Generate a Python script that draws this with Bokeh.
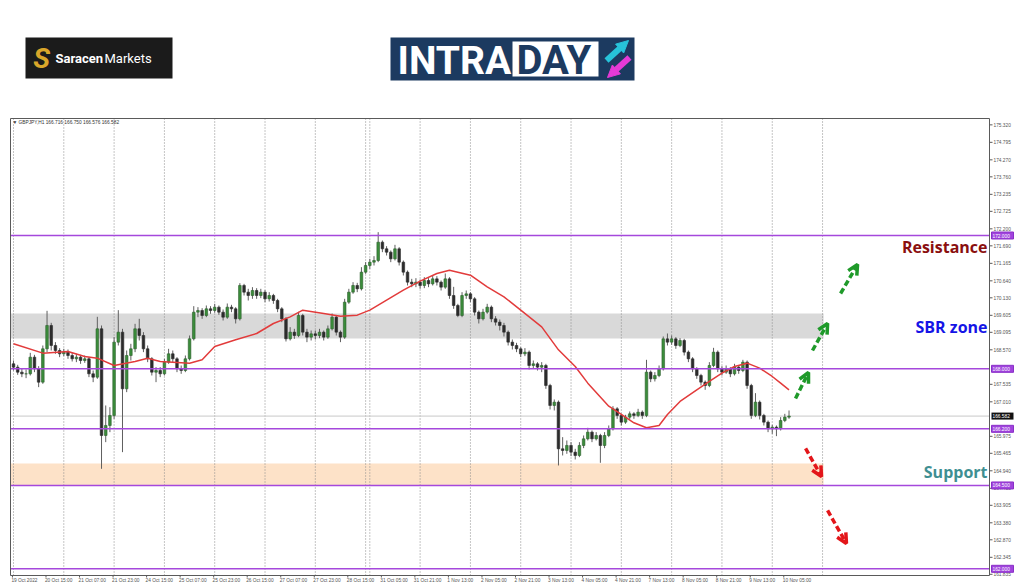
from bokeh.plotting import figure
from bokeh.models import Range1d, ColumnDataSource, Arrow, OpenHead, NormalHead
from bokeh.layouts import column
from bokeh.embed import file_html
from bokeh.resources import INLINE
from bokeh.core.properties import value

# ---------------- data (GBPJPY, 2-hour candles) ----------------
open0 = 168.15
close = [168.05,167.90,167.85,167.85,168.35,168.00,167.60,168.60,169.30,168.70,
         168.55,168.45,168.50,168.40,168.30,168.35,168.25,168.30,167.85,167.75,
         169.20,166.00,166.30,166.60,168.80,169.10,167.40,168.40,168.60,169.20,
         169.00,168.60,168.30,167.90,167.95,167.85,168.20,168.45,168.30,168.00,
         167.95,168.30,168.90,169.70,169.75,169.60,169.80,169.75,169.85,169.70,
         169.55,169.85,169.80,169.50,170.50,170.30,170.20,170.35,170.20,170.30,
         170.10,170.20,170.05,169.80,169.50,168.90,169.10,169.00,169.60,169.10,
         168.95,169.05,169.00,169.10,168.95,169.20,169.55,169.10,168.95,170.00,
         170.30,170.50,170.40,170.90,171.10,171.20,171.25,171.80,171.60,171.50,
         171.30,171.60,171.20,170.90,170.60,170.55,170.60,170.50,170.65,170.55,
         170.70,170.60,170.45,170.70,170.20,169.90,169.60,170.20,170.25,170.10,
         169.70,169.50,169.70,169.85,169.50,169.40,169.30,169.10,168.80,168.70,
         168.60,168.45,168.50,168.10,168.15,168.05,168.10,167.50,166.90,167.00,
         165.60,165.55,165.70,165.50,165.40,165.70,165.90,166.10,165.90,166.00,
         165.70,166.00,166.20,166.80,166.60,166.40,166.55,166.65,166.60,166.70,
         166.60,167.90,167.70,167.80,168.00,168.90,168.80,168.90,168.70,168.85,
         168.50,168.30,168.00,167.80,167.60,167.50,168.10,168.50,168.00,167.90,
         168.00,167.85,168.05,167.95,168.20,167.50,166.60,167.00,166.60,166.40,
         166.20,166.25,166.20,166.45,166.55,166.582]
high = [168.25,168.12,168.00,167.98,168.48,168.42,168.08,168.70,169.74,169.38,
        168.80,168.62,168.60,168.58,168.48,168.45,168.42,168.40,168.35,167.95,
        169.56,169.30,166.90,166.85,168.95,169.76,169.20,168.55,168.75,169.35,
        169.50,169.10,168.70,168.35,168.05,168.05,168.30,168.60,168.55,168.35,
        168.10,168.40,169.00,169.88,169.85,169.82,169.90,169.88,169.95,169.90,
        169.78,169.96,169.92,169.85,170.57,170.55,170.40,170.45,170.42,170.40,
        170.36,170.30,170.25,170.10,169.85,169.55,169.25,169.20,169.71,169.65,
        169.20,169.15,169.15,169.20,169.15,169.30,169.66,169.60,169.15,170.10,
        170.40,170.60,170.58,171.05,171.20,171.30,171.38,172.10,171.85,171.68,
        171.55,171.72,171.65,171.25,170.95,170.70,170.72,170.68,170.75,170.72,
        170.80,170.78,170.65,170.86,170.75,170.46,169.95,170.30,170.35,170.30,
        170.15,169.75,169.80,169.95,169.90,169.58,169.48,169.38,169.15,168.88,
        168.78,168.65,168.62,168.55,168.25,168.20,168.20,168.15,167.55,167.08,
        167.05,165.95,165.85,165.80,165.60,165.80,166.00,166.23,166.15,166.10,
        166.05,166.10,166.30,166.88,166.85,166.65,166.62,166.72,166.70,166.80,
        166.75,168.27,167.95,167.90,168.10,168.97,169.06,169.00,168.95,168.92,
        168.90,168.55,168.35,168.05,167.85,167.65,168.20,168.63,168.55,168.08,
        168.10,168.05,168.15,168.10,168.27,168.25,167.55,167.27,167.05,166.65,
        166.45,166.32,166.30,166.55,166.65,166.750]
low = [167.95,167.82,167.75,167.72,167.80,167.90,167.45,167.55,168.50,168.55,
       168.45,168.35,168.38,168.30,168.22,168.20,168.15,168.18,167.75,167.60,
       167.70,165.00,165.80,166.10,166.50,168.70,165.50,167.30,168.25,168.50,
       168.85,168.50,168.20,167.80,167.60,167.75,167.80,168.15,168.20,167.90,
       167.85,167.90,168.25,168.85,169.55,169.50,169.55,169.65,169.68,169.62,
       169.45,169.50,169.70,169.36,169.45,170.20,170.05,170.10,170.10,170.12,
       170.00,170.02,169.95,169.70,169.40,168.82,168.85,168.90,168.95,169.00,
       168.80,168.85,168.88,168.92,168.85,168.90,169.15,169.00,168.80,168.90,
       169.95,170.25,170.30,170.35,170.85,171.00,171.10,171.20,171.50,171.40,
       171.20,171.25,171.10,170.80,170.50,170.45,170.45,170.40,170.42,170.45,
       170.50,170.50,170.35,170.40,170.10,169.80,169.55,169.55,170.10,170.00,
       169.60,169.36,169.45,169.65,169.40,169.30,169.15,168.97,168.70,168.58,
       168.50,168.35,168.38,167.98,168.00,167.95,167.90,167.40,166.78,166.75,
       165.10,165.40,165.45,165.38,165.28,165.35,165.62,165.85,165.80,165.85,
       165.18,165.62,165.95,166.15,166.50,166.30,166.35,166.48,166.50,166.55,
       166.50,166.55,167.60,167.62,167.75,167.95,168.70,168.72,168.60,168.65,
       168.40,168.20,167.90,167.70,167.50,167.37,167.45,168.05,167.90,167.80,
       167.85,167.75,167.80,167.85,167.90,167.40,166.50,166.55,166.48,166.30,
       166.10,166.05,165.98,166.15,166.40,166.500]

# moving average (red line) read at candle indices
ma_candle = [0, 7, 13, 17, 20, 24, 29, 32, 35, 42, 45, 48, 53, 58, 62, 66, 69, 74, 78, 82,
             85, 89, 93, 97, 101, 104, 109, 113, 117, 121, 126, 130, 134, 137, 142, 145, 148,
             151, 154, 156, 159, 163, 166, 169, 172, 175, 178, 181, 183, 185]
ma_value = [168.75, 168.47, 168.52, 168.37, 168.32, 168.10, 168.22, 168.32, 168.22, 168.17,
            168.27, 168.67, 168.87, 169.06, 169.36, 169.56, 169.76, 169.66, 169.58, 169.61,
            169.76, 170.06, 170.36, 170.63, 170.86, 170.96, 170.81, 170.46, 170.16, 169.76,
            169.26, 168.57, 168.07, 167.57, 166.88, 166.63, 166.38, 166.23, 166.30, 166.63,
            167.02, 167.37, 167.62, 167.87, 168.07, 168.17, 168.02, 167.77, 167.57, 167.37]

levels = [172.000, 168.000, 166.200, 164.500, 162.000]
current_price = 166.582
sbr_zone = (168.91, 169.66)
support_zone = (164.50, 165.16)
zone_end_bar = 387

price_ticks = [175.320, 174.795, 174.270, 173.760, 173.235, 172.725, 172.200, 171.690,
               171.165, 170.640, 170.130, 169.605, 169.095, 168.570, 167.535, 167.010,
               165.975, 165.465, 164.940, 164.415, 163.905, 163.380, 162.870, 162.345, 161.835]
time_labels = ["19 Oct 2022", "20 Oct 15:00", "21 Oct 07:00", "21 Oct 23:00", "24 Oct 15:00",
               "25 Oct 07:00", "25 Oct 23:00", "26 Oct 15:00", "27 Oct 07:00", "27 Oct 23:00",
               "28 Oct 15:00", "31 Oct 05:00", "31 Oct 21:00", "1 Nov 13:00", "2 Nov 05:00",
               "2 Nov 21:00", "3 Nov 13:00", "4 Nov 05:00", "4 Nov 21:00", "7 Nov 13:00",
               "8 Nov 05:00", "8 Nov 21:00", "9 Nov 13:00", "10 Nov 05:00"]
bars_per_label = 16
day_start_bars = [1, 25, 49, 73, 97, 121, 145, 169, 171, 195, 219, 243, 267, 291, 315, 339, 363, 387]
bars_per_candle = 2

# scenario arrows: (bar, price) start -> end
up_arrows = [(373.6, 167.11, 379.8, 167.89), (381.7, 168.55, 388.9, 169.36), (395.1, 170.26, 403.2, 171.13)]
down_arrows = [(378.4, 165.61, 386.0, 164.77), (388.9, 163.75, 397.9, 162.76)]

captions = [("Resistance", 171.64, "#8a0f0f"), ("SBR zone", 169.24, "#1414e6"), ("Support", 164.89, "#3f8f92")]

# ---------------- layout calibration (page pixels) ----------------
PX_PER_BAR = 2.096
BAR0_PX = 11.95
PX_PER_UNIT = 33.33
REF_PRICE, REF_PY = 172.0, 235.0
HEADER_H = 110
W, H = 1024, 587


def bx(px):
    return (px - BAR0_PX) / PX_PER_BAR


def pr(py):
    return REF_PRICE - (py - REF_PY) / PX_PER_UNIT


FL, FR = bx(10), bx(989)      # chart frame left / right (axis line)
FT, FB = pr(118), pr(575)     # chart frame top / bottom
DX = 1 / PX_PER_BAR           # one pixel in bar units
DY = 1 / PX_PER_UNIT          # one pixel in price units
AX_FONT = value("Liberation Sans")

p = figure(width=W, height=H - HEADER_H, x_range=Range1d(bx(0), bx(W)),
           y_range=Range1d(pr(H), pr(HEADER_H)), output_backend="svg", toolbar_location=None,
           x_axis_location=None, y_axis_location=None, min_border=0)
p.grid.visible = False
p.outline_line_color = None
p.background_fill_color = "white"
p.border_fill_color = "white"

# zones
p.quad(left=[FL, FL], right=[zone_end_bar, zone_end_bar],
       bottom=[sbr_zone[0], support_zone[0]], top=[sbr_zone[1], support_zone[1]],
       fill_color=["#d9d9d9", "#fde2c8"], line_color=None)

# day separators (dotted)
gx = [b - 0.5 for b in day_start_bars]
p.segment(x0=gx, x1=gx, y0=[FB] * len(gx), y1=[FT] * len(gx),
          line_color="#8a8a8a", line_dash="1 2", line_width=1)

# current price line
p.segment(x0=[FL], x1=[FR], y0=[current_price], y1=[current_price], line_color="#c8c8c8", line_width=1)

# candles
xs = [bars_per_candle * j + 0.5 for j in range(len(close))]
opens = [open0] + close[:-1]
hi = [max(h, o, c) for h, o, c in zip(high, opens, close)]
lo = [min(l, o, c) for l, o, c in zip(low, opens, close)]
top = [max(o, c) for o, c in zip(opens, close)]
bot = [min(o, c) for o, c in zip(opens, close)]
bull = [c >= o for o, c in zip(opens, close)]
src = ColumnDataSource(dict(x=xs, hi=hi, lo=lo, top=top, bot=bot,
                            fill=["#3b8d3b" if b else "#2c2c2c" for b in bull],
                            line=["#2b5e2b" if b else "#2c2c2c" for b in bull]))
p.segment(x0="x", x1="x", y0="lo", y1="hi", source=src, line_color="#5f5f5f", line_width=1)
p.vbar(x="x", width=1.25, top="top", bottom="bot", source=src,
       fill_color="fill", line_color="line", line_width=0.6)

# moving average
p.line([bars_per_candle * j + 0.5 for j in ma_candle], ma_value, line_color="#e23b3b", line_width=1.5)

# key levels
p.segment(x0=[FL] * len(levels), x1=[FR] * len(levels), y0=levels, y1=levels,
          line_color="#a548dc", line_width=1.5)

# frame
p.quad(left=[FL], right=[FR], bottom=[FB], top=[FT], fill_color=None, line_color="#5a5a5a", line_width=1)

# arrows
for (xa0, ya0, xa1, ya1) in up_arrows:
    p.add_layout(Arrow(end=OpenHead(size=10, line_color="#1f9a2a", line_width=3.5),
                       x_start=xa0, y_start=ya0, x_end=xa1, y_end=ya1,
                       line_color="#1f9a2a", line_width=3.5, line_dash="6 3"))
for (xa0, ya0, xa1, ya1) in down_arrows:
    p.add_layout(Arrow(end=OpenHead(size=10, line_color="#e3161a", line_width=3.5),
                       x_start=xa0, y_start=ya0, x_end=xa1, y_end=ya1,
                       line_color="#e3161a", line_width=3.5, line_dash="6 3"))

# captions
p.text(x=[FR - 2 * DX] * len(captions), y=[c[1] for c in captions], text=[c[0] for c in captions],
       text_color=[c[2] for c in captions], text_align="right", text_baseline="middle",
       text_font=value("Open Sans"), text_font_style="bold", text_font_size="16px")

# symbol header inside the chart
p.text(x=[bx(12)], y=[pr(122)], text=["\u25bc GBPJPY,H1  166.716 166.750 166.576 166.582"],
       text_font=AX_FONT, text_font_size="4.8px", text_color="#333333", text_baseline="middle")

# price axis: ticks + labels
p.segment(x0=[FR] * len(price_ticks), x1=[FR + 3 * DX] * len(price_ticks), y0=price_ticks, y1=price_ticks,
          line_color="#5a5a5a", line_width=1)
p.text(x=[FR + 4 * DX] * len(price_ticks), y=price_ticks, text=[f"{t:.3f}" for t in price_ticks],
       text_font=AX_FONT, text_font_size="4.8px", text_color="#555555", text_baseline="middle")

# price boxes on the axis
p.rect(x=[FR + 13 * DX] * len(levels), y=levels, width=22 * DX, height=7 * DY,
       fill_color="#a044dd", line_color="#8a2fc8")
p.text(x=[FR + 3 * DX] * len(levels), y=levels, text=[f"{v:.3f}" for v in levels],
       text_font=AX_FONT, text_font_size="4.8px", text_color="white", text_baseline="middle")
p.rect(x=[FR + 13 * DX], y=[current_price], width=22 * DX, height=7 * DY, fill_color="#111111", line_color=None)
p.text(x=[FR + 3 * DX], y=[current_price], text=[f"{current_price:.3f}"],
       text_font=AX_FONT, text_font_size="4.8px", text_color="white", text_baseline="middle")

# time axis: ticks + labels
tx = [bars_per_label * i for i in range(len(time_labels))]
p.segment(x0=tx, x1=tx, y0=[FB] * len(tx), y1=[FB - 2 * DY] * len(tx), line_color="#5a5a5a", line_width=1)
p.text(x=[t - 0.5 for t in tx], y=[pr(580)] * len(tx), text=time_labels,
       text_font=AX_FONT, text_font_size="4.8px", text_color="#555555", text_baseline="middle")

# ---------------- header with logos (page pixel coordinates) ----------------
h = figure(width=W, height=HEADER_H, x_range=Range1d(0, W), y_range=Range1d(HEADER_H, 0),
           output_backend="svg", toolbar_location=None, x_axis_location=None, y_axis_location=None,
           min_border=0)
h.grid.visible = False
h.outline_line_color = None

h.quad(left=[25], right=[172], top=[37], bottom=[78], fill_color="#1b1b1b", line_color=None)
h.text(x=[41], y=[58], text=["S"], text_font=value("Roboto"), text_font_style="bold italic",
       text_font_size="28px", text_color="#d9a62a", text_align="center", text_baseline="middle")
h.text(x=[55], y=[58], text=["Saracen"], text_font=value("Roboto"), text_font_style="bold",
       text_font_size="13px", text_color="white", text_baseline="middle")
h.text(x=[104], y=[58], text=["Markets"], text_font=value("Roboto"),
       text_font_size="13px", text_color="white", text_baseline="middle")

h.quad(left=[390], right=[634], top=[37], bottom=[80], fill_color="#1c3a60", line_color=None)
h.text(x=[397], y=[60], text=["INTRA"], text_font=value("Roboto"), text_font_style="bold",
       text_font_size="39px", text_color="white", text_baseline="middle")
h.quad(left=[512], right=[598], top=[41], bottom=[76], fill_color="white", line_color=None)
h.text(x=[516], y=[60], text=["DAY"], text_font=value("Roboto"), text_font_style="bold",
       text_font_size="40px", text_color="#1c3a60", text_baseline="middle")
h.add_layout(Arrow(end=NormalHead(size=12, fill_color="#27c3da", line_color="#27c3da"),
                   x_start=606, y_start=60, x_end=628, y_end=40, line_color="#27c3da", line_width=6))
h.add_layout(Arrow(end=NormalHead(size=12, fill_color="#e53ad6", line_color="#e53ad6"),
                   x_start=629, y_start=57, x_end=607, y_end=77, line_color="#e53ad6", line_width=6))

layout = column(h, p)
open("out.html", "w").write(file_html(layout, INLINE))
